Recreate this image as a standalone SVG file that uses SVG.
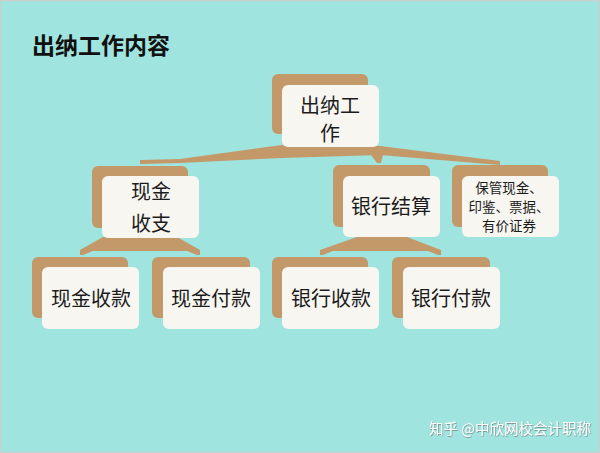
<svg xmlns="http://www.w3.org/2000/svg" width="600" height="453" viewBox="0 0 600 453">
<style>
.bg{fill:#9fe4de}
.sh{fill:#c4996a}
.bx{fill:#f8f6f1}
.cn{fill:#c4996a}
text{font-family:"Noto Sans CJK SC","Noto Sans",sans-serif;fill:#1c1c1c;text-anchor:middle}
.t{font-size:20px}
.s{font-size:13.5px}
.wm{font-size:14.5px;fill:#ffffff;text-anchor:start}
</style>
<defs>
<filter id="ws" x="-10%" y="-30%" width="120%" height="160%"><feDropShadow dx="0.6" dy="0.8" stdDeviation="0.6" flood-color="#666" flood-opacity="0.7"/></filter>
</defs>
<rect class="bg" x="0" y="0" width="600" height="453"/>
<rect x="0.5" y="0.5" width="599" height="452" fill="none" stroke="#c9cfcd" stroke-width="1.5"/>
<text x="32" y="54" style="font-size:23px;font-weight:bold;text-anchor:start;fill:#111">出纳工作内容</text>

<g id="connectors">
<polygon class="cn" points="140,160 180,159 282,145 380,146 500,161 500,165 380,155 282,158 180,163 140,164"/>
<polygon class="cn" points="368,151 384,151 381,163 377,163"/>
<polygon class="cn" points="80,250 103,237 177,237 200,250 200,255 197,255 187,251 93,251 83,255 80,255"/>
<polygon class="cn" points="320,250 357,237 407,237 441,250 441,255 438,255 428,251 333,251 323,255 320,255"/>
</g>

<g id="n-root">
<rect class="sh" x="272" y="74" width="96" height="60" rx="6"/>
<rect class="bx" x="282" y="85" width="97" height="62" rx="6"/>
<text style="font-size:20px"><tspan x="330" y="113">出纳工</tspan><tspan x="330" y="141">作</tspan></text>
</g>

<g id="n-xjsz">
<rect class="sh" x="92" y="166" width="96" height="62" rx="6"/>
<rect class="bx" x="102" y="176" width="97" height="62" rx="6"/>
<text class="t"><tspan x="151" y="199">现金</tspan><tspan x="151" y="231">收支</tspan></text>
</g>

<g id="n-yhjs">
<rect class="sh" x="333" y="165" width="97" height="62" rx="6"/>
<rect class="bx" x="343" y="176" width="97" height="61" rx="6"/>
<text class="t" x="391" y="214">银行结算</text>
</g>

<g id="n-bg">
<rect class="sh" x="452" y="165" width="96" height="62" rx="6"/>
<rect class="bx" x="462" y="176" width="97" height="61" rx="6"/>
<text class="s"><tspan x="509" y="193">保管现金、</tspan><tspan x="509" y="212">印鉴、票据、</tspan><tspan x="509" y="231">有价证券</tspan></text>
</g>

<g id="n-xjsk">
<rect class="sh" x="32" y="257" width="96" height="61" rx="6"/>
<rect class="bx" x="42" y="267" width="97" height="62" rx="6"/>
<text class="t" x="91" y="306">现金收款</text>
</g>

<g id="n-xjfk">
<rect class="sh" x="152" y="257" width="98" height="61" rx="6"/>
<rect class="bx" x="163" y="267" width="97" height="62" rx="6"/>
<text class="t" x="211" y="306">现金付款</text>
</g>

<g id="n-yhsk">
<rect class="sh" x="272" y="257" width="96" height="61" rx="6"/>
<rect class="bx" x="282" y="267" width="97" height="62" rx="6"/>
<text class="t" x="331" y="306">银行收款</text>
</g>

<g id="n-yhfk">
<rect class="sh" x="392" y="257" width="98" height="61" rx="6"/>
<rect class="bx" x="403" y="267" width="97" height="62" rx="6"/>
<text class="t" x="451" y="306">银行付款</text>
</g>

<text class="wm" x="429" y="434" filter="url(#ws)">知乎 @中欣网校会计职称</text>
</svg>
